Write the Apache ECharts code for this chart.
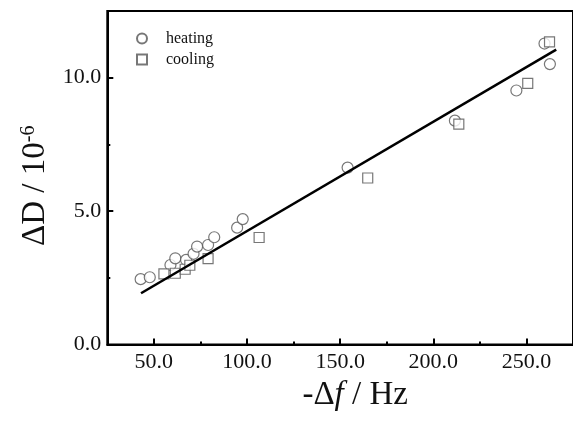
<!DOCTYPE html>
<html><head><meta charset="utf-8">
<script src="https://cdn.jsdelivr.net/npm/echarts@6/dist/echarts.min.js"></script>
<style>html,body{margin:0;padding:0;background:#fff}#c{width:573px;height:422px}</style>
</head><body><div id="c"></div>
<script>
const heatingX = [42.9, 47.8, 58.9, 61.5, 67.3, 71.3, 73.2, 79.1, 82.4, 94.7, 97.7, 154.0, 211.6, 244.6, 259.7, 262.6];
const heatingY = [2.45, 2.52, 2.98, 3.23, 3.17, 3.40, 3.67, 3.73, 4.02, 4.38, 4.70, 6.63, 8.39, 9.52, 11.28, 10.51];
const coolingX = [55.4, 61.5, 66.8, 69.3, 79.1, 106.5, 164.8, 213.7, 250.7, 262.4];
const coolingY = [2.65, 2.67, 2.82, 2.97, 3.22, 4.01, 6.24, 8.26, 9.79, 11.34];
const fitX = [43.1, 266.0];
const fitY = [1.92, 11.05];
const xMajorTicks = [50, 100, 150, 200, 250];
const xMinorTicks = [75, 125, 175, 225];
const yMajorTicks = [0, 5, 10];
const yMinorTicks = [2.5, 7.5];
const legendNames = ['heating', 'cooling'];

const FONT = "'Liberation Serif', 'Times New Roman', serif";
const zip = (xs, ys) => xs.map((x, i) => [x, ys[i]]);

const chart = echarts.init(document.getElementById('c'), null, {renderer: 'canvas'});
const axisLineStyle = {color: '#000', width: 2};
chart.setOption({
  backgroundColor: '#fff',
  animation: false,
  grid: {left: 107.3, top: 11, right: -1.3, bottom: 77.5, show: true, borderColor: '#000', borderWidth: 2, containLabel: false},
  legend: {
    orient: 'vertical', left: 131, top: 23, itemWidth: 10, itemHeight: 10, itemGap: 0,
    data: legendNames,
    textStyle: {fontFamily: FONT, fontSize: 16, color: '#111', lineHeight: 21, padding: [0, 0, 0, 14]}
  },
  xAxis: [{
    type: 'value', min: 25, max: 275, interval: 25,
    name: '{a|-Δ}{b|f}{a| / Hz}', nameLocation: 'middle', nameGap: 32,
    nameTextStyle: {padding: [0, 0, 0, 30], rich: {
      a: {fontFamily: FONT, fontSize: 33, color: '#111'},
      b: {fontFamily: FONT, fontSize: 33, fontStyle: 'italic', color: '#111'}
    }},
    axisLine: {show: true, onZero: false, lineStyle: axisLineStyle},
    axisTick: {show: true, inside: true, length: 6, lineStyle: {color: '#000', width: 2}, customValues: xMajorTicks},
    axisLabel: {customValues: xMajorTicks, formatter: v => v.toFixed(1), fontFamily: FONT, fontSize: 22, color: '#111', margin: 7},
    splitLine: {show: false}
  }, {
    type: 'value', min: 25, max: 275, interval: 25, position: 'bottom',
    axisLine: {show: false},
    axisTick: {show: true, inside: true, length: 3, lineStyle: {color: '#000', width: 2}, customValues: xMinorTicks},
    axisLabel: {show: false}, splitLine: {show: false}
  }],
  yAxis: [{
    type: 'value', min: 0, max: 12.5, interval: 5,
    name: '{a|ΔD / 10}{s|-6}', nameLocation: 'middle', nameGap: 50,
    nameTextStyle: {padding: [0, 16, 0, 0], rich: {
      a: {fontFamily: FONT, fontSize: 33, color: '#111'},
      s: {fontFamily: FONT, fontSize: 20, color: '#111', verticalAlign: 'top'}
    }},
    axisLine: {show: true, onZero: false, lineStyle: axisLineStyle},
    axisTick: {show: true, inside: true, length: 6, lineStyle: {color: '#000', width: 2}, customValues: yMajorTicks},
    axisLabel: {customValues: yMajorTicks, formatter: v => v.toFixed(1), fontFamily: FONT, fontSize: 22, color: '#111', margin: 6},
    splitLine: {show: false}
  }, {
    type: 'value', min: 0, max: 12.5, interval: 5, position: 'left',
    axisLine: {show: false},
    axisTick: {show: true, inside: true, length: 3, lineStyle: {color: '#000', width: 2}, customValues: yMinorTicks},
    axisLabel: {show: false}, splitLine: {show: false}
  }],
  series: [{
    name: 'heating', type: 'scatter', symbol: 'circle', symbolSize: 11,
    data: zip(heatingX, heatingY),
    itemStyle: {color: '#fff', borderColor: '#555', borderWidth: 1.2}, z: 3
  }, {
    name: 'cooling', type: 'scatter', symbol: 'rect', symbolSize: 10,
    data: zip(coolingX, coolingY),
    itemStyle: {color: '#fff', borderColor: '#555', borderWidth: 1.2}, z: 3
  }, {
    name: 'fit', type: 'line', data: zip(fitX, fitY), showSymbol: false, symbol: 'none',
    lineStyle: {color: '#000', width: 2.5}, z: 4, silent: true
  }]
});
</script></body></html>
